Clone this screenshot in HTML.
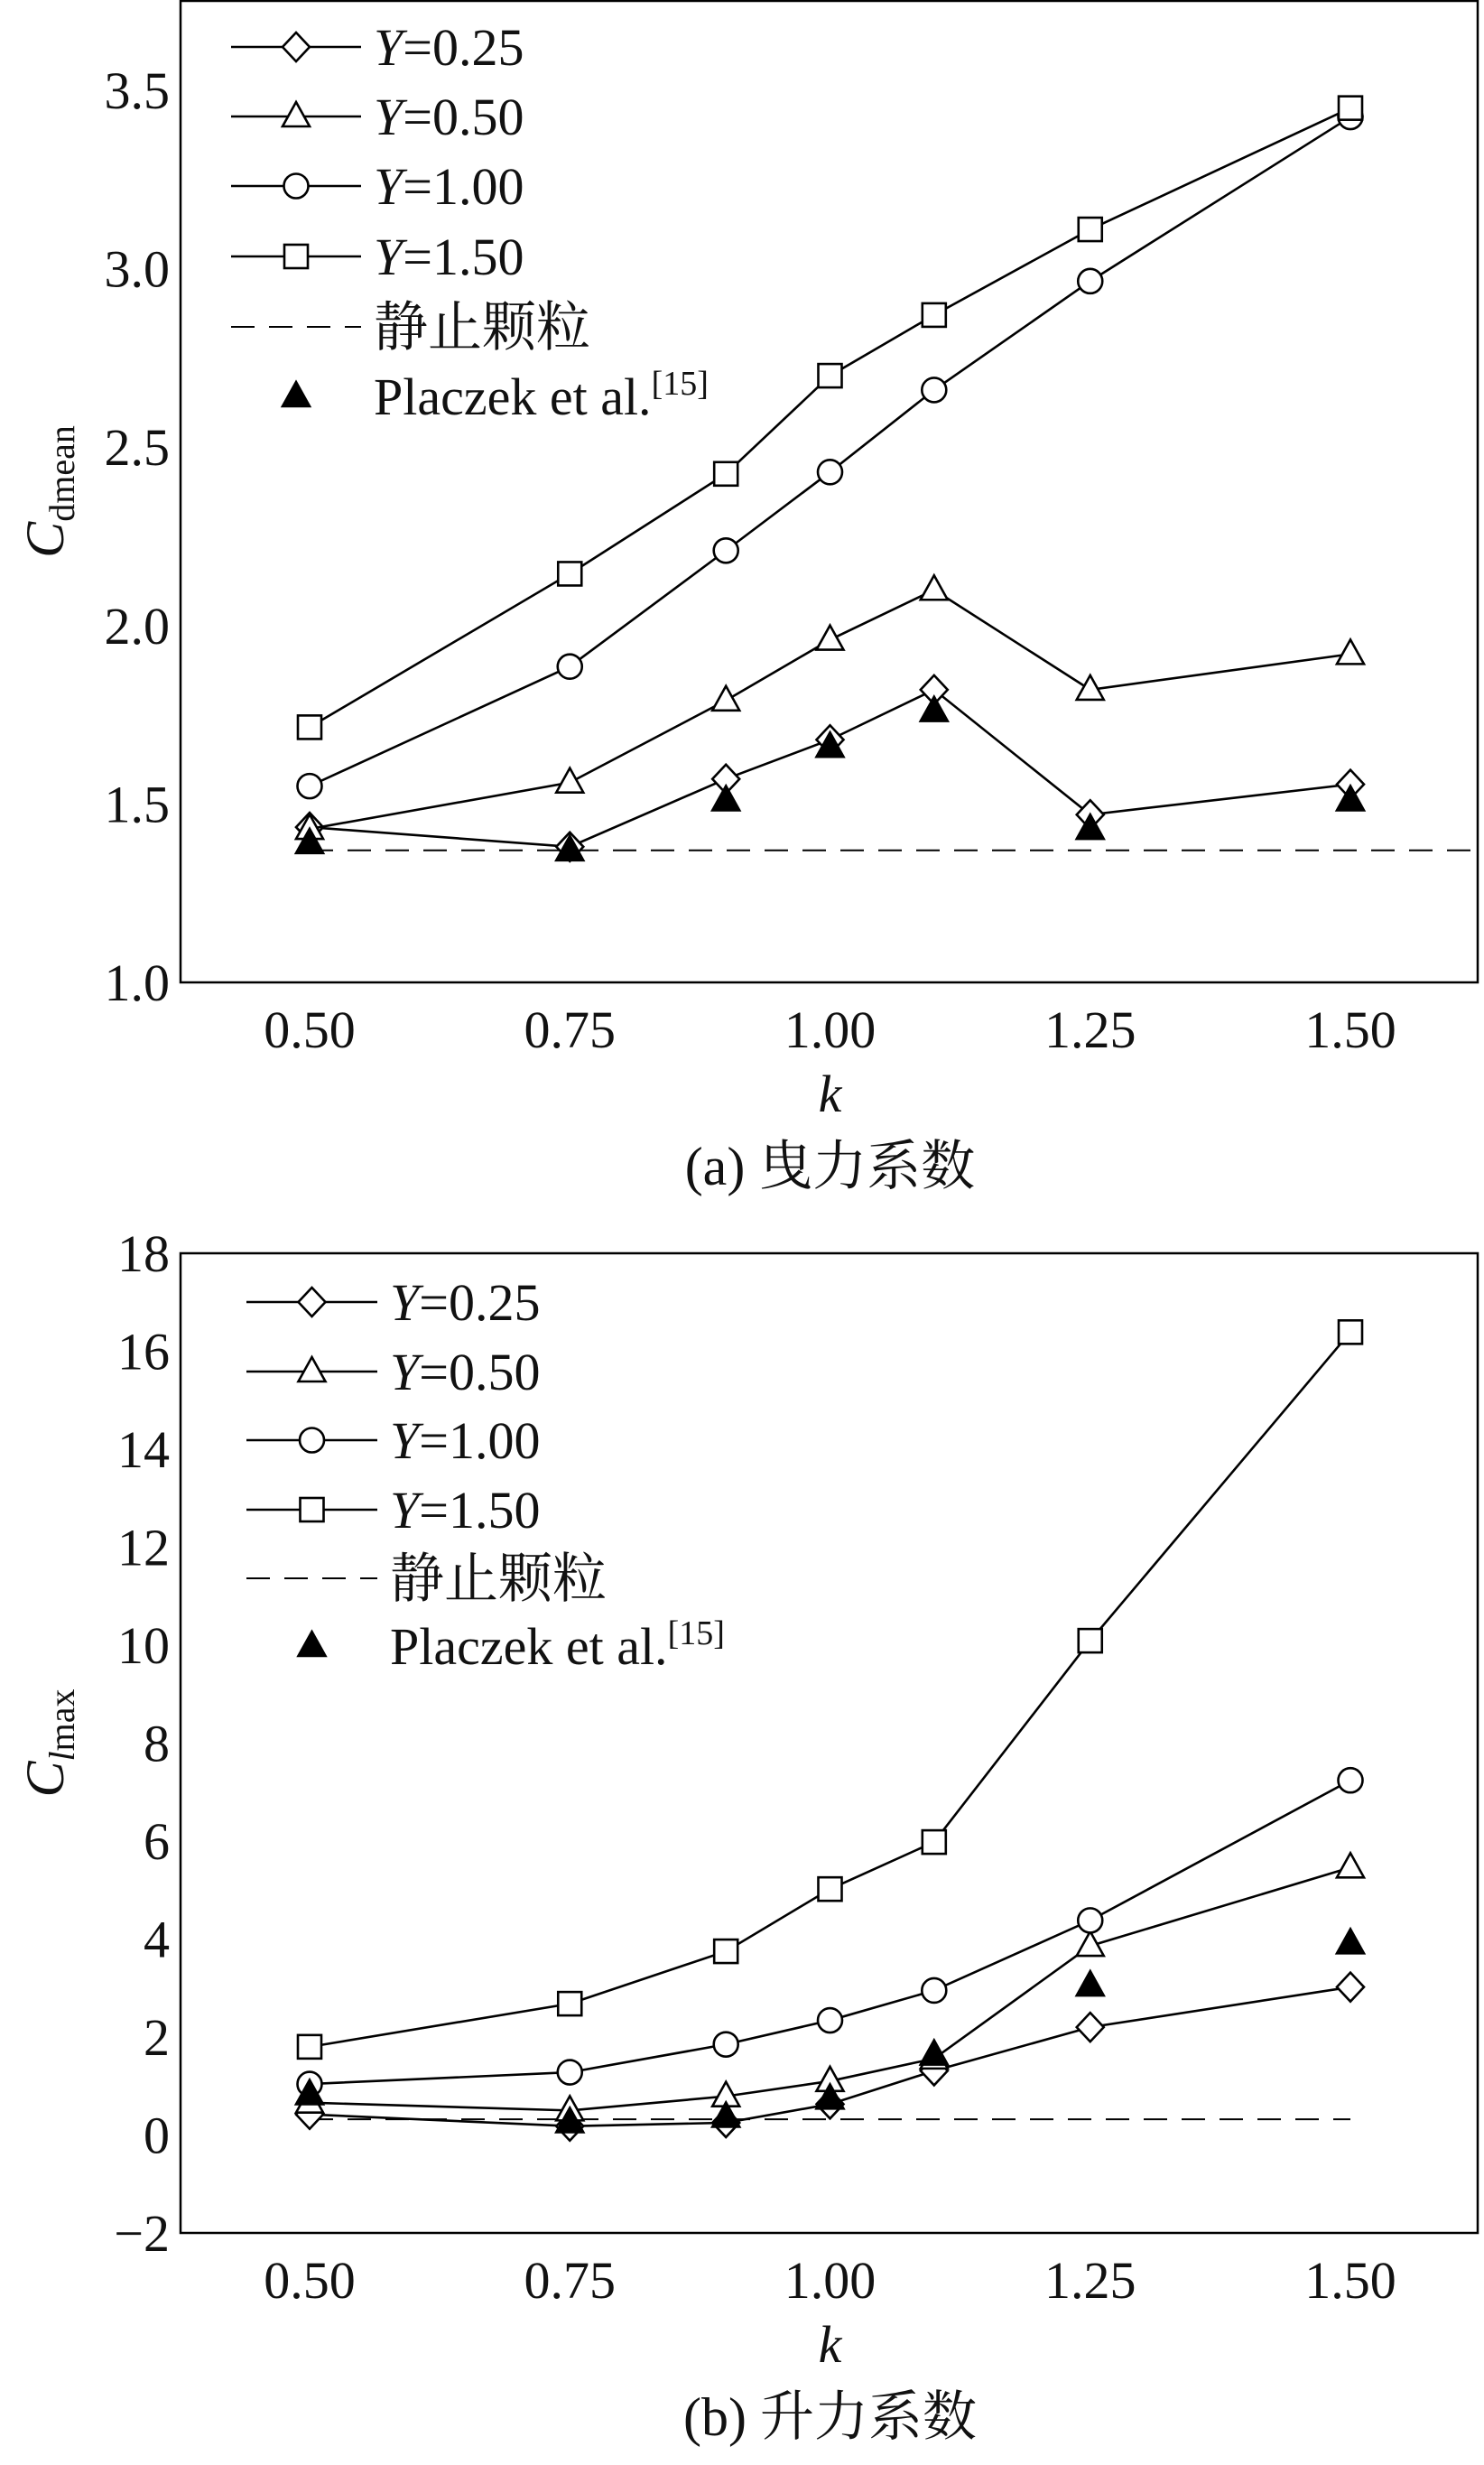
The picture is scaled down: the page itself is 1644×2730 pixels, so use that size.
<!DOCTYPE html>
<html><head><meta charset="utf-8"><style>
html,body{margin:0;padding:0;background:#fff}
svg{display:block}
text{font-family:"Liberation Serif","Noto Serif CJK SC","Noto Sans CJK SC",serif;fill:#111}
</style></head><body>
<svg id="chart" width="1644" height="2730" viewBox="0 0 1644 2730" xmlns="http://www.w3.org/2000/svg"></svg>
<script>
const kValues = [0.50, 0.75, 0.90, 1.00, 1.10, 1.25, 1.50];
const xTicks = [0.50, 0.75, 1.00, 1.25, 1.50];
const xTickLabels = ["0.50","0.75","1.00","1.25","1.50"];
const seriesNames = ["Y=0.25","Y=0.50","Y=1.00","Y=1.50"];
const dragY025 = [1.435, 1.38, 1.57, 1.68, 1.82, 1.47, 1.555];
const dragY050 = [1.43, 1.56, 1.79, 1.96, 2.10, 1.82, 1.92];
const dragY100 = [1.55, 1.885, 2.21, 2.43, 2.66, 2.965, 3.425];
const dragY150 = [1.715, 2.145, 2.425, 2.70, 2.87, 3.11, 3.45];
const dragPlaczek = [1.39, 1.37, 1.51, 1.66, 1.76, 1.43, 1.51];
const dragStatic = 1.37;
const dragYTicks = [1.0, 1.5, 2.0, 2.5, 3.0, 3.5];
const dragYTickLabels = ["1.0","1.5","2.0","2.5","3.0","3.5"];
const liftY025 = [0.42, 0.18, 0.25, 0.63, 1.31, 2.2, 3.02];
const liftY050 = [0.66, 0.5, 0.79, 1.1, 1.56, 3.86, 5.46];
const liftY100 = [1.04, 1.28, 1.85, 2.34, 2.95, 4.38, 7.24];
const liftY150 = [1.8, 2.68, 3.75, 5.02, 5.98, 10.09, 16.39];
const liftPlaczek = [0.83, 0.26, 0.37, 0.74, 1.64, 3.05, 3.91];
const liftStatic = 0.32;
const liftYTicks = [-2, 0, 2, 4, 6, 8, 10, 12, 14, 16, 18];
const liftYTickLabels = ["\u22122","0","2","4","6","8","10","12","14","16","18"];

const NS = "http://www.w3.org/2000/svg";
const svg = document.getElementById("chart");
function mk(tag, attrs, parent){const e=document.createElementNS(NS,tag);for(const k in attrs)e.setAttribute(k,attrs[k]);(parent||svg).appendChild(e);return e;}
const SW = 2.6;
const FS = 58;
function marker(g, type, cx, cy, filled){
  let e;
  if(type==="diamond"){e=mk("polygon",{points:`${cx},${cy-16} ${cx+15},${cy} ${cx},${cy+16} ${cx-15},${cy}`},g);}
  else if(type==="triangle"){e=mk("polygon",{points:`${cx},${cy-16} ${cx+15},${cy+11} ${cx-15},${cy+11}`},g);}
  else if(type==="circle"){e=mk("circle",{cx:cx,cy:cy,r:13.5},g);}
  else {e=mk("rect",{x:cx-13,y:cy-13,width:26,height:26},g);}
  e.setAttribute("fill", filled?"#000":"#fff");
  e.setAttribute("stroke","#000");e.setAttribute("stroke-width",SW);
  return e;
}
const types=["diamond","triangle","circle","square"];

function drawPanel(cfg){
  const P=cfg.P;
  const xS=v=>P.x0+(v-0.5)*(P.x1-P.x0)/1.0;
  const yS=v=>P.b-(v-cfg.ymin)*(P.b-P.t)/(cfg.ymax-cfg.ymin);
  const g=mk("g",{});
  
  
  const frame=mk("rect",{x:P.l,y:P.t,width:P.r-P.l,height:P.b-P.t,fill:"none",stroke:"#000","stroke-width":2.5},g);
  
  
  cfg.yTicks.forEach((v,i)=>{
    const t=mk("text",{x:P.l-12,y:yS(v)+20,"text-anchor":"end","font-size":FS},g);
    t.textContent=cfg.yTickLabels[i];
    
    
  });
  xTicks.forEach((v,i)=>{
    const t=mk("text",{x:xS(v),y:P.b+72,"text-anchor":"middle","font-size":FS},g);
    t.textContent=xTickLabels[i];
    
    
  });
  const xl=mk("text",{x:xS(1.0),y:P.b+143,"text-anchor":"middle","font-size":FS,"font-style":"italic"},g);
  xl.textContent="k";
  
  
  const yl=mk("text",{transform:`translate(${P.l-130},${(P.t+P.b)/2}) rotate(-90)`,"text-anchor":"middle","font-size":60},g);
  yl.innerHTML=cfg.yLabel;
  
  
  const cap=mk("text",{x:xS(1.0),y:P.b+224,"text-anchor":"middle","font-size":60},g);
  cap.textContent=cfg.caption;
  
  
  const dl=mk("line",{x1:xS(0.5),x2:cfg.dashEnd(xS),y1:yS(cfg.stat),y2:yS(cfg.stat),stroke:"#000","stroke-width":2,"stroke-dasharray":"26,16"},g);
  
  
  cfg.series.forEach((s,si)=>{
    const sg=mk("g",{},g);
    
    
    mk("polyline",{points:s.map((v,i)=>xS(kValues[i])+","+yS(v)).join(" "),fill:"none",stroke:"#000","stroke-width":SW},sg);
    s.forEach((v,i)=>{const m=marker(sg,types[si],xS(kValues[i]),yS(v),false);
      
      });
  });
  const pg=mk("g",{},g);
  
  
  cfg.plac.forEach((v,i)=>{const m=marker(pg,"triangle",xS(kValues[i]),yS(v),true);
    
    });
  const L=cfg.L;
  const lg=mk("g",{},g);
  
  
  const labels=[["Y","=0.25"],["Y","=0.50"],["Y","=1.00"],["Y","=1.50"]];
  labels.forEach((lb,i)=>{
    const y=L.ys[i];
    mk("line",{x1:L.x0,x2:L.x1,y1:y,y2:y,stroke:"#000","stroke-width":SW},lg);
    marker(lg,types[i],(L.x0+L.x1)/2,y,false);
    const t=mk("text",{x:L.tx,y:y+20,"font-size":FS},lg);
    t.innerHTML=`<tspan font-style="italic">${lb[0]}</tspan>${lb[1]}`;
    
    
  });
  mk("line",{x1:L.x0,x2:L.x1,y1:L.ys[4],y2:L.ys[4],stroke:"#000","stroke-width":2,"stroke-dasharray":"26,16"},lg);
  const t4=mk("text",{x:L.tx,y:L.ys[4]+21,"font-size":60},lg);
  t4.textContent="静止颗粒";
  
  
  marker(lg,"triangle",(L.x0+L.x1)/2,L.ys[5],true);
  const t5=mk("text",{x:L.tx,y:L.ys[5]+20,"font-size":FS},lg);
  t5.innerHTML='Placzek et al.<tspan font-size="38" dy="-22">[15]</tspan>';
  
  
}

drawPanel({name:"drag-panel",P:{l:200,r:1637,t:1,b:1088,x0:343,x1:1496},ymin:1.0,ymax:3.5+ (99/ (1088-99))*2.5,
  yTicks:dragYTicks,yTickLabels:dragYTickLabels,
  yLabel:'<tspan font-style="italic">C</tspan><tspan font-size="40" dy="12">dmean</tspan>',
  caption:"(a) 曳力系数",stat:dragStatic,dashEnd:xS=>1637,
  series:[dragY025,dragY050,dragY100,dragY150],plac:dragPlaczek,
  L:{x0:256,x1:400,tx:414,ys:[52,129,206,284,362,439]}});
drawPanel({name:"lift-panel",P:{l:200,r:1637,t:1388,b:2473,x0:343,x1:1496},ymin:-2,ymax:18,
  yTicks:liftYTicks,yTickLabels:liftYTickLabels,
  yLabel:'<tspan font-style="italic">C</tspan><tspan font-size="40" dy="12"><tspan font-style="italic">l</tspan>max</tspan>',
  caption:"(b) 升力系数",stat:liftStatic,dashEnd:xS=>xS(1.5),
  series:[liftY025,liftY050,liftY100,liftY150],plac:liftPlaczek,
  L:{x0:273,x1:418,tx:432,ys:[1442,1519,1595,1672,1748,1823]}});
</script>
</body></html>
